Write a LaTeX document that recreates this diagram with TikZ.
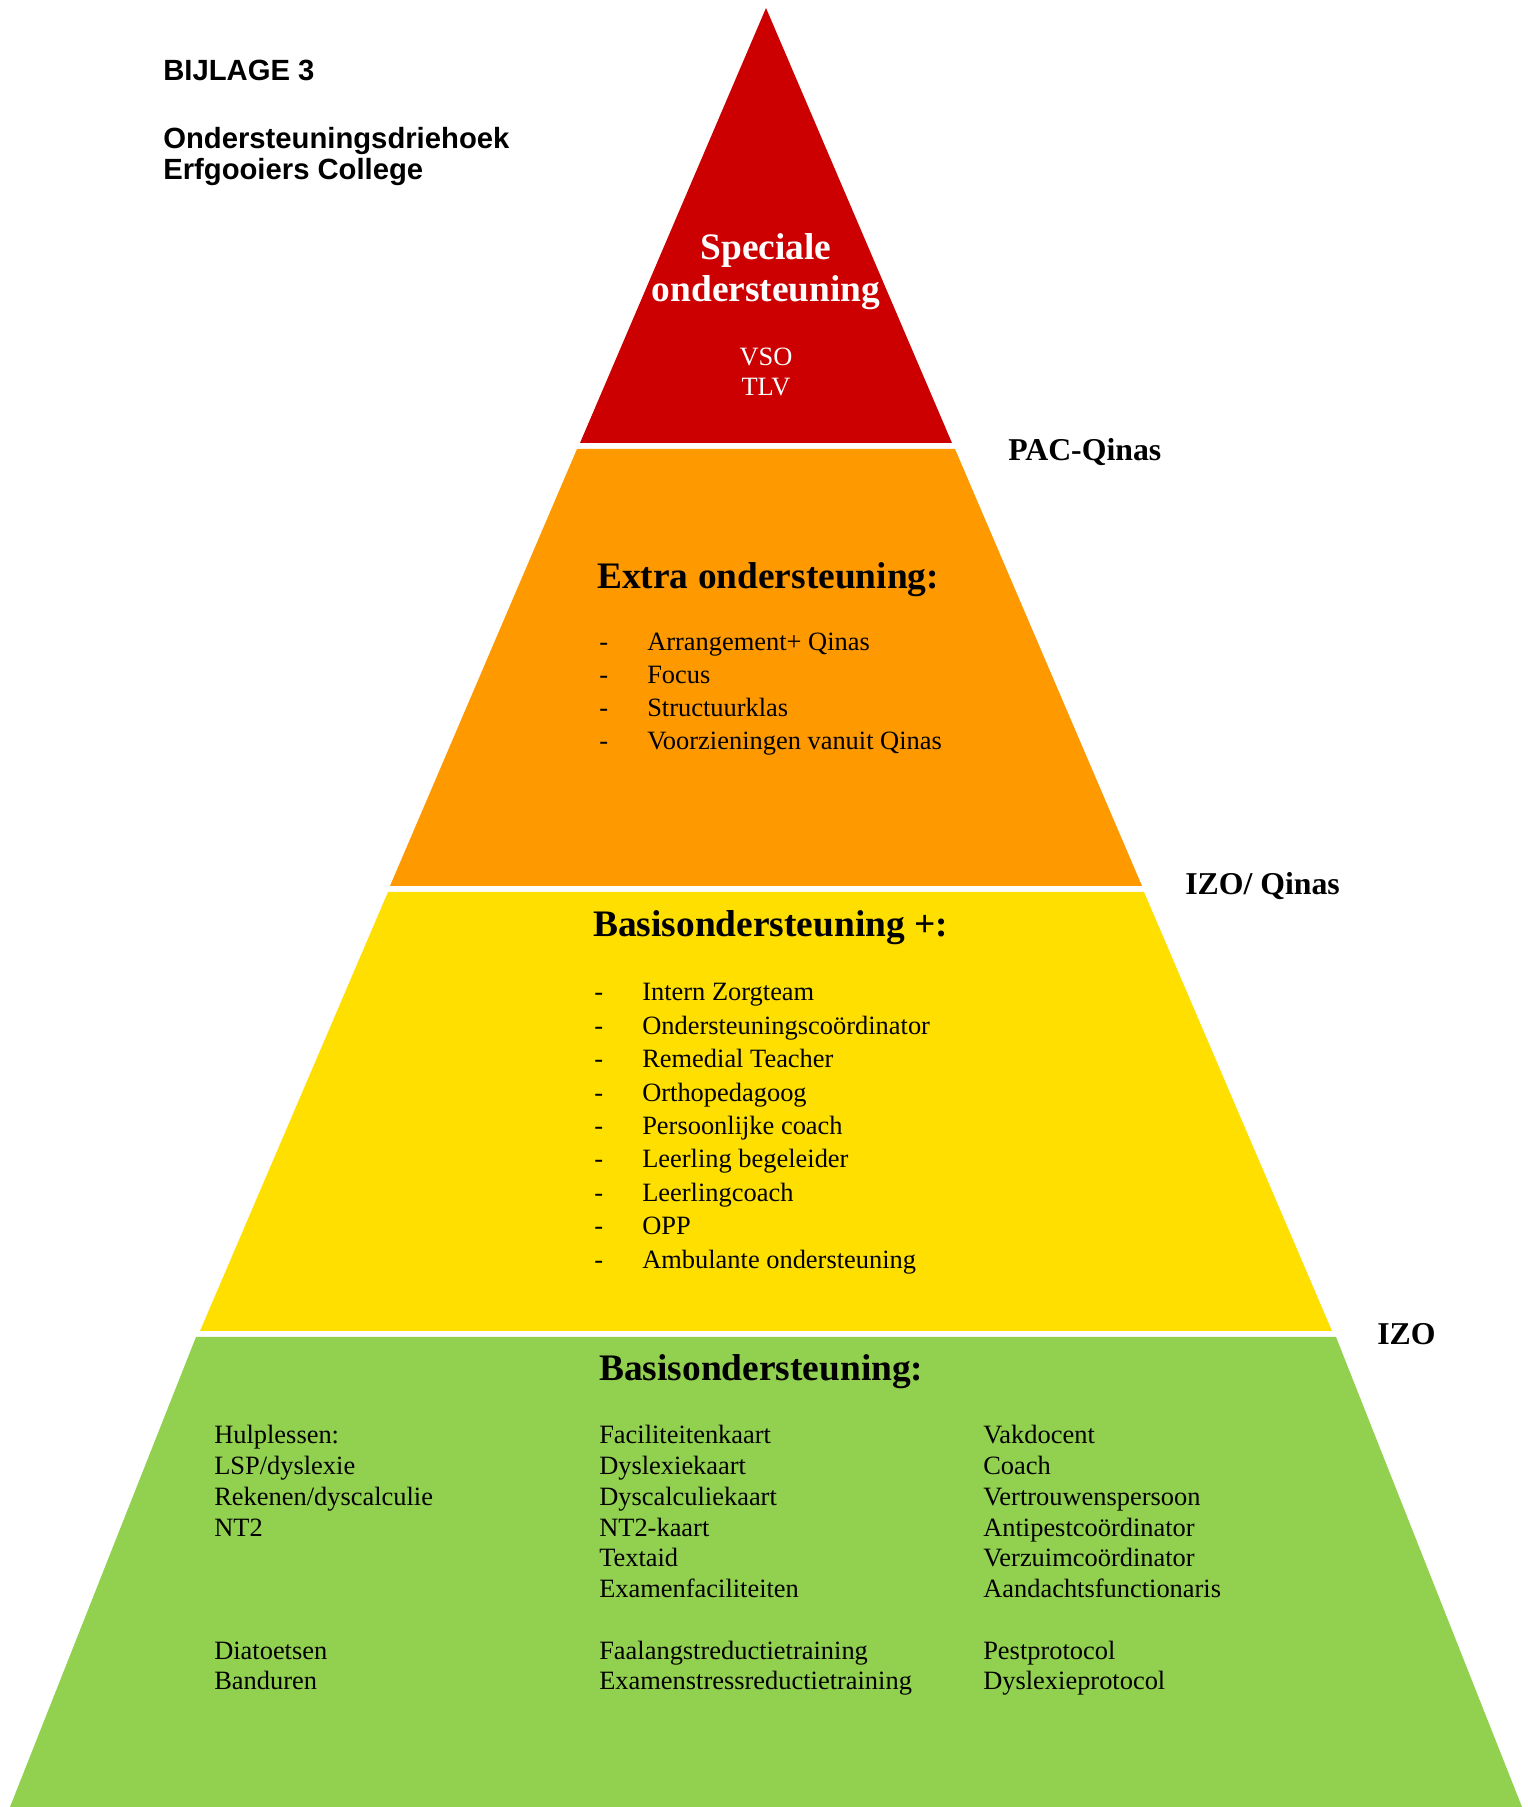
\documentclass[tikz,border=0pt]{standalone}
\usepackage{fontspec}
\setmainfont{Liberation Serif}
\newfontfamily\arialfont{Liberation Sans}
\usepackage{tikz}
\usetikzlibrary{positioning}
\usetikzlibrary{calc}

\definecolor{rood}{RGB}{204,0,0}
\definecolor{oranje}{RGB}{255,153,0}
\definecolor{geel}{RGB}{255,223,0}
\definecolor{groen}{RGB}{146,208,80}

\tikzset{
  txt/.style={anchor=base west, inner sep=0pt, font=\fontsize{18.8}{22}\selectfont},
  kop/.style={anchor=base west, inner sep=0pt, font=\bfseries\fontsize{26.6}{30}\selectfont},
  niveau/.style={anchor=base west, inner sep=0pt, font=\bfseries\fontsize{22.6}{26}\selectfont},
  titel/.style={anchor=base west, inner sep=0pt, font=\arialfont\bfseries\fontsize{20.8}{24}\selectfont}
}

\begin{document}
\begin{tikzpicture}
\useasboundingbox (0,0) rectangle (38.2,45.175);

% de vier lagen van de driehoek
\fill[rood] (19.15,44.975) -- (23.8,34.1) -- (14.5,34.1) -- cycle;
\fill[oranje] (14.425,33.95) -- (23.875,33.95) -- (28.55,23.025) -- (9.75,23.025) -- cycle;
\fill[geel] (9.7,22.875) -- (28.6,22.875) -- (33.3,11.9) -- (5.0,11.9) -- cycle;
\fill[groen] (4.9,11.75) -- (33.4,11.75) -- (38.05,0) -- (0.25,0) -- cycle;

% titel
\node[titel] (bijlage) at (4.075,43.15) {BIJLAGE 3};
\node[titel] (titel1) at (4.075,41.45) {Ondersteuningsdriehoek};
\node[titel] (titel2) at (4.075,40.69) {Erfgooiers College};

% speciale ondersteuning
\node[kop, anchor=base, text=white] (speciale) at (19.15,38.69) {Speciale};
\node[kop, anchor=base, text=white] (speciale2) at (19.15,37.64) {ondersteuning};
\node[txt, anchor=base, text=white] (vso) at (19.15,36.03) {VSO};
\node[txt, anchor=base, text=white] (tlv) at (19.15,35.28) {TLV};

% niveaus rechts
\node[niveau] (pac) at (25.2,33.66) {PAC-Qinas};
\node[niveau] (izoqinas) at (29.625,22.81) {IZO/ Qinas};
\node[niveau] (izo) at (34.425,11.55) {IZO};

% extra ondersteuning
\node[kop] (extra) at (14.925,30.45) {Extra ondersteuning:};
\foreach \t [count=\i from 0] in {Arrangement+ Qinas, Focus, Structuurklas, Voorzieningen vanuit Qinas} {
  \node[txt] (extra-d\i) at (14.975,28.9-0.825*\i) {-};
  \node[txt] (extra-\i) at (16.175,28.9-0.825*\i) {\t};
}

% basisondersteuning +
\node[kop] (basisplus) at (14.825,21.77) {Basisondersteuning +:};
\foreach \t [count=\i from 0] in {Intern Zorgteam, Ondersteuningscoördinator, Remedial Teacher,
    Orthopedagoog, Persoonlijke coach, Leerling begeleider, Leerlingcoach, OPP, Ambulante ondersteuning} {
  \node[txt] (plus-d\i) at (14.85,20.15-0.835*\i) {-};
  \node[txt] (plus-\i) at (16.05,20.15-0.835*\i) {\t};
}

% basisondersteuning
\node[kop] (basis) at (14.975,10.67) {Basisondersteuning:};
\foreach \r/\t [count=\i] in {0/Hulplessen:, 1/{LSP/dyslexie}, 2/{Rekenen/dyscalculie}, 3/NT2, 7/Diatoetsen, 8/Banduren} {
  \node[txt] (kol1-\i) at (5.35,9.08-0.769*\r) {\t};
}
\foreach \r/\t [count=\i] in {0/Faciliteitenkaart, 1/Dyslexiekaart, 2/Dyscalculiekaart, 3/NT2-kaart, 4/Textaid,
    5/Examenfaciliteiten, 7/Faalangstreductietraining, 8/Examenstressreductietraining} {
  \node[txt] (kol2-\i) at (14.975,9.08-0.769*\r) {\t};
}
\foreach \r/\t [count=\i] in {0/Vakdocent, 1/Coach, 2/Vertrouwenspersoon, 3/Antipestcoördinator, 4/Verzuimcoördinator,
    5/Aandachtsfunctionaris, 7/Pestprotocol, 8/Dyslexieprotocol} {
  \node[txt] (kol3-\i) at (24.575,9.08-0.769*\r) {\t};
}
\end{tikzpicture}
\end{document}
